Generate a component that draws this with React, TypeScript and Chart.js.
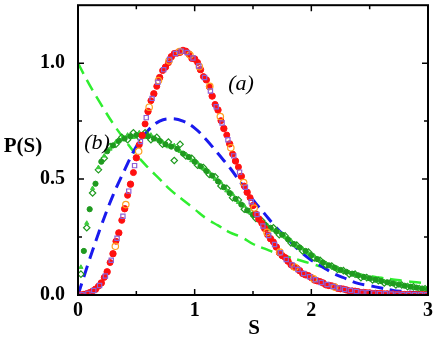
import React, { useEffect, useRef } from 'react';
import { Chart, registerables } from 'chart.js';

Chart.register(...registerables);

// s grid (step 0.05) shared by red filled circles and green filled circles
const S_GRID = [0.00,0.05,0.10,0.15,0.20,0.25,0.30,0.35,0.40,0.45,0.50,0.55,0.60,0.65,0.70,0.75,0.80,0.85,0.90,0.95,1.00,1.05,1.10,1.15,1.20,1.25,1.30,1.35,1.40,1.45,1.50,1.55,1.60,1.65,1.70,1.75,1.80,1.85,1.90,1.95,2.00,2.05,2.10,2.15,2.20,2.25,2.30,2.35,2.40,2.45,2.50,2.55,2.60,2.65,2.70,2.75,2.80,2.85,2.90,2.95,3.00];
// offset grid used by purple squares, second red set and green diamonds
const S_HALF = [0.025,0.075,0.125,0.175,0.225,0.275,0.325,0.375,0.425,0.475,0.525,0.575,0.625,0.675,0.725,0.775,0.825,0.875,0.925,0.975,1.025,1.075,1.125,1.175,1.225,1.275,1.325,1.375,1.425,1.475,1.525,1.575,1.625,1.675,1.725,1.775,1.825,1.875,1.925,1.975,2.025,2.075,2.125,2.175,2.225,2.275,2.325,2.375,2.425,2.475,2.525,2.575,2.625,2.675,2.725,2.775,2.825,2.875,2.925,2.975];
// grid for the dashed reference curves
const S_LINE = [0.0,0.1,0.2,0.3,0.4,0.5,0.6,0.7,0.8,0.9,1.0,1.1,1.2,1.3,1.4,1.5,1.6,1.7,1.8,1.9,2.0,2.1,2.2,2.3,2.4,2.5,2.6,2.7,2.8,2.9,3.0];
// purple squares sit slightly off the red grid
const S_PURPLE = [0.035,0.085,0.135,0.185,0.235,0.285,0.335,0.385,0.435,0.485,0.535,0.585,0.635,0.685,0.735,0.785,0.835,0.885,0.935,0.985,1.035,1.085,1.135,1.185,1.235,1.285,1.335,1.385,1.435,1.485,1.535,1.585,1.635,1.685,1.735,1.785,1.835,1.885,1.935,1.985,2.035,2.085,2.135,2.185,2.235,2.285,2.335,2.385,2.435,2.485,2.535,2.585,2.635,2.685,2.735,2.785,2.835,2.885,2.935,2.985];

// (a) red filled circles
const RED_P = [0.000,0.002,0.010,0.025,0.052,0.100,0.178,0.268,0.372,0.478,0.592,0.688,0.792,0.868,0.938,0.983,1.028,1.044,1.055,1.040,1.018,0.972,0.928,0.858,0.798,0.718,0.652,0.578,0.512,0.443,0.386,0.328,0.287,0.243,0.207,0.170,0.146,0.122,0.105,0.087,0.075,0.061,0.052,0.041,0.035,0.027,0.022,0.017,0.014,0.011,0.009,0.007,0.006,0.005,0.004,0.003,0.002,0.002,0.001,0.001,0.001];
// (a) second red set, between the grid points
const RED2_P = [0.001,0.006,0.017,0.038,0.076,0.140,0.232,0.322,0.430,0.528,0.648,0.738,0.838,0.900,0.968,1.002,1.042,1.046,1.052,1.020,1.003,0.942,0.898,0.822,0.752,0.690,0.608,0.552,0.470,0.420,0.350,0.310,0.260,0.229,0.182,0.162,0.130,0.116,0.092,0.084,0.064,0.058,0.043,0.040,0.028,0.026,0.018,0.017,0.011,0.010,0.007,0.006,0.005,0.004,0.003,0.002,0.002,0.001,0.001,0.001];
// (a) purple open squares
const PURPLE_P = [0.001,0.007,0.019,0.041,0.082,0.150,0.245,0.340,0.448,0.558,0.662,0.765,0.848,0.918,0.972,1.016,1.042,1.052,1.046,1.022,0.988,0.938,0.880,0.812,0.742,0.670,0.600,0.530,0.465,0.402,0.347,0.298,0.257,0.218,0.182,0.153,0.130,0.110,0.093,0.079,0.066,0.054,0.045,0.037,0.030,0.024,0.019,0.015,0.012,0.010,0.008,0.006,0.005,0.004,0.003,0.002,0.002,0.001,0.001,0.001];
// (a) orange open circles
const ORANGE_S = [0.32,0.41,0.52,0.61,0.69,0.78,0.87,0.96,1.04,1.13,1.22,1.31,1.42,1.51,1.62,1.73,1.86,2.02,2.20];
const ORANGE_P = [0.21,0.39,0.62,0.81,0.925,1.01,1.05,1.035,0.985,0.90,0.77,0.635,0.485,0.375,0.27,0.185,0.12,0.07,0.034];

// (b) green filled circles
const GREEN_P = [0.00,0.19,0.37,0.48,0.575,0.62,0.645,0.665,0.675,0.685,0.69,0.69,0.685,0.675,0.665,0.65,0.64,0.63,0.61,0.595,0.575,0.555,0.535,0.515,0.49,0.465,0.44,0.415,0.39,0.365,0.345,0.325,0.305,0.29,0.275,0.26,0.24,0.22,0.205,0.19,0.172,0.155,0.14,0.128,0.118,0.108,0.10,0.092,0.085,0.078,0.072,0.066,0.06,0.055,0.05,0.045,0.04,0.036,0.032,0.028,0.025];
// (b) light green small marks
const LIGHT_P = [0.12,0.31,0.46,0.55,0.60,0.63,0.66,0.67,0.69,0.68,0.70,0.68,0.69,0.67,0.66,0.64,0.645,0.62,0.605,0.58,0.57,0.545,0.53,0.50,0.485,0.45,0.435,0.40,0.385,0.355,0.34,0.315,0.30,0.28,0.27,0.25,0.235,0.21,0.20,0.18,0.168,0.148,0.136,0.122,0.114,0.102,0.097,0.087,0.082,0.073,0.069,0.062,0.058,0.051,0.048,0.042,0.039,0.033,0.030,0.026];
// (b) green open diamonds
const DIAMOND_P = [0.09,0.29,0.44,0.54,0.59,0.64,0.65,0.68,0.67,0.70,0.68,0.70,0.67,0.68,0.65,0.66,0.58,0.65,0.60,0.59,0.56,0.55,0.52,0.51,0.47,0.46,0.42,0.41,0.37,0.36,0.33,0.32,0.29,0.29,0.26,0.255,0.225,0.215,0.19,0.185,0.16,0.15,0.13,0.125,0.11,0.105,0.09,0.09,0.075,0.075,0.065,0.062,0.052,0.052,0.043,0.043,0.036,0.035,0.028,0.027];

// dashed curves
const BLUE_P = [0,0.155,0.30,0.43,0.54,0.64,0.71,0.75,0.76,0.75,0.72,0.67,0.61,0.55,0.48,0.41,0.35,0.29,0.24,0.19,0.15,0.12,0.09,0.07,0.05,0.04,0.03,0.02,0.015,0.01,0.007];
const LIME_P = [1.0,0.905,0.82,0.74,0.67,0.605,0.55,0.50,0.45,0.41,0.37,0.33,0.30,0.27,0.25,0.22,0.20,0.18,0.165,0.15,0.135,0.12,0.11,0.10,0.09,0.082,0.074,0.067,0.06,0.055,0.05];

const X_MAJOR = [0, 1, 2, 3];
const X_MINOR = [0.5, 1.5, 2.5];
const Y_MAJOR = [0, 0.5, 1.0];
const Y_MINOR = [0.25, 0.75];

const pts = (xs: number[], ys: number[]) => ys.map((y, i) => ({ x: xs[i], y }));

const SERIF = "'Liberation Serif', 'Times New Roman', serif";

const framePlugin = {
  id: 'framePlugin',
  afterDraw(chart: any) {
    const { ctx, chartArea: a, scales } = chart;
    const xs = scales.x;
    const ys = scales.y;
    ctx.save();
    ctx.strokeStyle = '#000';
    ctx.lineWidth = 2;
    ctx.strokeRect(a.left, a.top, a.right - a.left, a.bottom - a.top);
    ctx.lineWidth = 1.5;
    const xt = (v: number, len: number) => {
      const p = xs.getPixelForValue(v);
      ctx.beginPath();
      ctx.moveTo(p, a.bottom); ctx.lineTo(p, a.bottom - len);
      ctx.moveTo(p, a.top); ctx.lineTo(p, a.top + len);
      ctx.stroke();
    };
    const yt = (v: number, len: number) => {
      const p = ys.getPixelForValue(v);
      ctx.beginPath();
      ctx.moveTo(a.left, p); ctx.lineTo(a.left + len, p);
      ctx.moveTo(a.right, p); ctx.lineTo(a.right - len, p);
      ctx.stroke();
    };
    X_MAJOR.forEach(v => xt(v, 6));
    X_MINOR.forEach(v => xt(v, 4));
    Y_MAJOR.forEach(v => yt(v, 6));
    Y_MINOR.forEach(v => yt(v, 4));

    ctx.fillStyle = '#000';
    ctx.textAlign = 'center';
    ctx.textBaseline = 'middle';
    ctx.font = `bold 21px ${SERIF}`;
    ctx.fillText('P(S)', 23, 147);
    ctx.fillText('S', 254, 329);
    ctx.font = `italic 22px ${SERIF}`;
    ctx.fillText('(a)', 241, 84);
    ctx.fillText('(b)', 97, 143);
    ctx.restore();
  },
};

export default function App() {
  const ref = useRef<HTMLCanvasElement | null>(null);
  useEffect(() => {
    if (!ref.current) return;
    const chart = new Chart(ref.current, {
      type: 'scatter',
      data: {
        datasets: [
          {
            label: 'purple',
            data: pts(S_PURPLE, PURPLE_P),
            backgroundColor: 'rgba(0,0,0,0)',
            borderColor: '#8e5fd6',
            borderWidth: 1.2,
            pointRadius: 3,
            pointStyle: 'rect',
            order: 1,
          },
          {
            label: 'orange',
            data: pts(ORANGE_S, ORANGE_P),
            backgroundColor: 'rgba(0,0,0,0)',
            borderColor: '#ffa020',
            borderWidth: 1.2,
            pointRadius: 3.2,
            order: 2,
          },
          {
            label: 'red',
            data: pts(S_GRID, RED_P),
            backgroundColor: '#ff1010',
            borderColor: '#ff1010',
            pointRadius: 3.2,
            order: 3,
          },
          {
            label: 'red2',
            data: pts(S_HALF, RED2_P),
            backgroundColor: '#ff1010',
            borderColor: '#ff1010',
            pointRadius: 3,
            order: 4,
          },
          {
            label: 'green',
            data: pts(S_GRID, GREEN_P),
            backgroundColor: '#1f9a1f',
            borderColor: '#1f9a1f',
            pointRadius: 2.6,
            order: 5,
          },
          {
            label: 'light',
            data: pts(S_HALF, LIGHT_P),
            backgroundColor: '#3ccc3c',
            borderColor: '#3ccc3c',
            pointRadius: 2.4,
            pointStyle: 'triangle',
            order: 6,
          },
          {
            label: 'diamond',
            data: pts(S_HALF, DIAMOND_P),
            backgroundColor: 'rgba(0,0,0,0)',
            borderColor: '#1f9a1f',
            borderWidth: 1.2,
            pointRadius: 3.2,
            pointStyle: 'rectRot',
            order: 7,
          },
          {
            label: 'blue',
            data: pts(S_LINE, BLUE_P),
            showLine: true,
            borderColor: '#1a1aee',
            borderWidth: 3,
            borderDash: [12, 7],
            pointRadius: 0,
            tension: 0.4,
            order: 8,
          },
          {
            label: 'lime',
            data: pts(S_LINE, LIME_P),
            showLine: true,
            borderColor: '#30ee30',
            borderWidth: 2.5,
            borderDash: [12, 7],
            pointRadius: 0,
            tension: 0.4,
            order: 9,
          },
        ],
      },
      options: {
        responsive: false,
        animation: false,
        events: [],
        layout: { padding: { top: 2, right: 8, left: 0, bottom: 0 } },
        plugins: { legend: { display: false }, tooltip: { enabled: false } },
        scales: {
          x: {
            type: 'linear',
            min: 0,
            max: 3,
            grid: { display: false },
            border: { display: false },
            ticks: {
              stepSize: 1,
              includeBounds: false,
              padding: -4,
              color: '#000',
              maxRotation: 0,
              font: { family: SERIF, size: 20, weight: 'bold' },
              callback: (v: any) => String(v),
            },
            afterFit: (s: any) => { s.height = 44; s.paddingLeft = 0; s.paddingRight = 0; },
          },
          y: {
            type: 'linear',
            min: 0,
            max: 1.25,
            grid: { display: false },
            border: { display: false },
            ticks: {
              stepSize: 0.5,
              includeBounds: false,
              padding: 5,
              color: '#000',
              font: { family: SERIF, size: 20, weight: 'bold' },
              callback: (v: any) => (Math.abs(v * 2 - Math.round(v * 2)) < 1e-6 ? Number(v).toFixed(1) : ''),
            },
            afterFit: (s: any) => { s.width = 78; s.paddingTop = 0; s.paddingBottom = 0; },
          },
        },
      },
      plugins: [framePlugin],
    } as any);
    return () => chart.destroy();
  }, []);
  return (
    <canvas
      ref={ref}
      width={436}
      height={339}
      style={{ position: 'fixed', left: 0, top: 0, width: 436, height: 339, background: '#fff' }}
    />
  );
}
